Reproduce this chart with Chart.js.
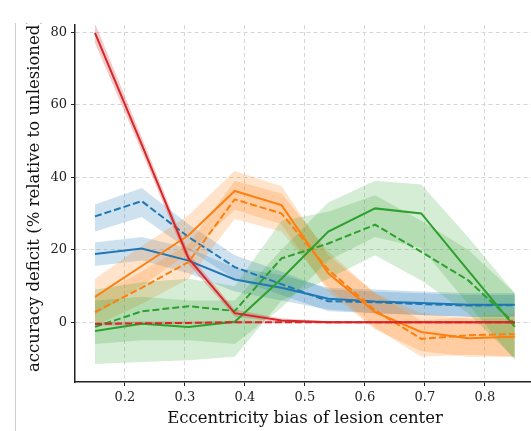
<!DOCTYPE html>
<html>
<head>
<meta charset="utf-8">
<script src="https://cdn.jsdelivr.net/npm/chart.js@4/dist/chart.umd.min.js"></script>
<style>
  html, body { margin: 0; padding: 0; background: #fff; }
  #wrap { width: 531px; height: 431px; position: relative; }
</style>
</head>
<body>
<div id="wrap"><canvas id="deficitChart"></canvas></div>
<script>
// eccentricity bias positions (x)
var ecc = [0.15, 0.228, 0.306, 0.383, 0.461, 0.539, 0.617, 0.694, 0.772, 0.85];
var xTicks = [0.2, 0.3, 0.4, 0.5, 0.6, 0.7, 0.8];
var yTicks = [0, 20, 40, 60, 80];

// blue
var blueSolid = [18.8, 20.3, 17, 11.8, 9.5, 6.5, 5.7, 5.3, 4.8, 4.8];
var blueSolidLo = [15.5, 17, 13.5, 8.5, 6, 3.5, 2.5, 2, 1.5, 1.5];
var blueSolidHi = [22, 23.5, 20.5, 15, 13, 9.5, 9, 8.5, 8, 8];
var blueDash = [29.2, 33.4, 23.5, 15.2, 10.5, 5.8, 5.5, 5, 4.6, 4.7];
var blueDashLo = [25, 29, 20, 12, 7.5, 3, 2.5, 2, 1.5, 1.5];
var blueDashHi = [32.5, 37, 27, 18.5, 14, 9, 8.5, 8, 7.5, 7.5];

// orange
var orangeSolid = [7, 15.5, 24, 36.2, 32.3, 13.5, 2.8, -2.7, -4.4, -4];
var orangeSolidLo = [2, 10, 19, 31, 27, 8.5, -2, -8, -9.5, -9.5];
var orangeSolidHi = [12, 21, 29.5, 41.7, 37.5, 18.5, 8, 2.5, 1, 1];
var orangeDash = [2.8, 9.5, 16.6, 33.9, 30, 14.5, 3.3, -4.6, -3.6, -3.3];
var orangeDashLo = [-1, 5, 12, 28.5, 25, 9.5, -1.5, -9.5, -9, -9.5];
var orangeDashHi = [7, 14, 21.5, 39, 35.5, 19.5, 8, 0.5, 1.5, 2.5];

// green
var greenSolid = [-2.4, -0.4, -1.3, 0.1, 12, 25, 31.4, 30, 14.3, -1.3];
var greenSolidLo = [-6, -5, -5, -6, 4, 17, 23.5, 20.5, 5, -10.5];
var greenSolidHi = [6, 7, 6, 6, 20, 33, 39, 38, 23.5, 8];
var greenDash = [-1.3, 3, 4.4, 3.1, 17.6, 21.7, 26.9, 19.4, 11.6, -0.4];
var greenDashLo = [-11.5, -11, -10.5, -9.5, 6, 12, 18.5, 11.5, 2.5, -10];
var greenDashHi = [9, 11, 12, 10, 28, 30.5, 35, 28, 20, 8];

// red
var redSolid = [79.8, 49, 17.6, 2.5, 0.5, 0, 0, 0, 0, 0];
var redSolidLo = [77, 47, 16, 1.5, 0, -0.3, -0.3, -0.3, -0.3, -0.3];
var redSolidHi = [82.5, 51, 19, 3.5, 1, 0.3, 0.3, 0.3, 0.3, 0.3];
var redDash = [-0.5, -0.3, -0.2, 0, 0, 0, 0, 0, 0, 0];
var redDashLo = [-1, -0.8, -0.6, -0.4, -0.3, -0.3, -0.3, -0.3, -0.3, -0.3];
var redDashHi = [0, 0.2, 0.2, 0.4, 0.3, 0.3, 0.3, 0.3, 0.3, 0.3];

var SERIF = '"DejaVu Serif", serif';

function pts(arr) {
    return arr.map(function (v, i) { return { x: ecc[i], y: v }; });
}

function line(vals, color, dashed) {
    return {
        data: pts(vals),
        borderColor: color,
        borderWidth: 2,
        borderDash: dashed ? [7, 3] : [],
        pointRadius: 0,
        fill: false,
        tension: 0
    };
}

// lower edge + upper edge filled down to it
function band(lo, hi, fillColor) {
    return [
        { data: pts(lo), borderWidth: 0, pointRadius: 0, fill: false, borderColor: 'transparent' },
        { data: pts(hi), borderWidth: 0, pointRadius: 0, fill: '-1', borderColor: 'transparent', backgroundColor: fillColor }
    ];
}

// lines first so they are drawn on top
var datasets = [
    line(redSolid, '#d62728', false),
    line(redDash, '#d62728', true),
    line(greenSolid, '#2ca02c', false),
    line(greenDash, '#2ca02c', true),
    line(orangeSolid, '#ff7f0e', false),
    line(orangeDash, '#ff7f0e', true),
    line(blueSolid, '#1f77b4', false),
    line(blueDash, '#1f77b4', true)
].concat(
    band(redSolidLo, redSolidHi, 'rgba(214,39,40,0.25)'),
    band(redDashLo, redDashHi, 'rgba(214,39,40,0.25)'),
    band(greenSolidLo, greenSolidHi, 'rgba(44,160,44,0.2)'),
    band(greenDashLo, greenDashHi, 'rgba(44,160,44,0.2)'),
    band(orangeSolidLo, orangeSolidHi, 'rgba(255,127,14,0.22)'),
    band(orangeDashLo, orangeDashHi, 'rgba(255,127,14,0.22)'),
    band(blueSolidLo, blueSolidHi, 'rgba(31,119,180,0.22)'),
    band(blueDashLo, blueDashHi, 'rgba(31,119,180,0.22)')
);

var labelsPlugin = {
    id: 'labels',
    afterDraw: function (chart) {
        var ctx = chart.ctx;
        ctx.save();
        // thin gray frame line at left
        ctx.strokeStyle = '#cfcfcf';
        ctx.lineWidth = 1;
        ctx.beginPath();
        ctx.moveTo(15.5, 23);
        ctx.lineTo(15.5, 431);
        ctx.stroke();

        ctx.fillStyle = '#111';
        ctx.font = '16.5px ' + SERIF;
        ctx.textAlign = 'center';
        ctx.textBaseline = 'middle';
        ctx.fillText('Eccentricity bias of lesion center', 305, 419);

        // figure is cropped at the top, so the y title is clipped there
        ctx.beginPath();
        ctx.rect(0, 23, 80, 408);
        ctx.clip();
        ctx.translate(35, 372);
        ctx.rotate(-Math.PI / 2);
        ctx.textAlign = 'left';
        ctx.fillText('accuracy deficit (% relative to unlesioned)', 0, 0);
        ctx.restore();
    }
};

var ctx = document.getElementById('deficitChart').getContext('2d');
var deficitChart = new Chart(ctx, {
    type: 'line',
    data: { datasets: datasets },
    plugins: [labelsPlugin],
    options: {
        responsive: true,
        maintainAspectRatio: false,
        animation: false,
        layout: { padding: { top: 25, left: 0, right: 0, bottom: 0 } },
        plugins: {
            legend: { display: false },
            tooltip: { enabled: false }
        },
        scales: {
            x: {
                type: 'linear',
                min: 0.1167,
                max: 0.877,
                afterBuildTicks: function (s) { s.ticks = xTicks.map(function (v) { return { value: v }; }); },
                afterFit: function (s) { s.height = 49; },
                ticks: {
                    color: '#222',
                    font: { family: SERIF, size: 13 },
                    padding: 4,
                    maxRotation: 0,
                    callback: function (v) { return v.toFixed(1); }
                },
                grid: {
                    color: '#d6d6d6',
                    tickColor: '#222',
                    tickLength: 4,
                    tickBorderDash: [],
                    tickWidth: 1
                },
                border: { display: true, color: '#222', width: 1.5, dash: [4, 3] }
            },
            y: {
                min: -16.5,
                max: 82,
                afterBuildTicks: function (s) { s.ticks = yTicks.map(function (v) { return { value: v }; }); },
                afterFit: function (s) { s.width = 75; },
                ticks: {
                    color: '#222',
                    font: { family: SERIF, size: 13 },
                    padding: 4
                },
                grid: {
                    color: '#d6d6d6',
                    tickColor: '#222',
                    tickLength: 4,
                    tickBorderDash: [],
                    tickWidth: 1
                },
                border: { display: true, color: '#222', width: 1.5, dash: [4, 3] }
            }
        }
    }
});
</script>
</body>
</html>
